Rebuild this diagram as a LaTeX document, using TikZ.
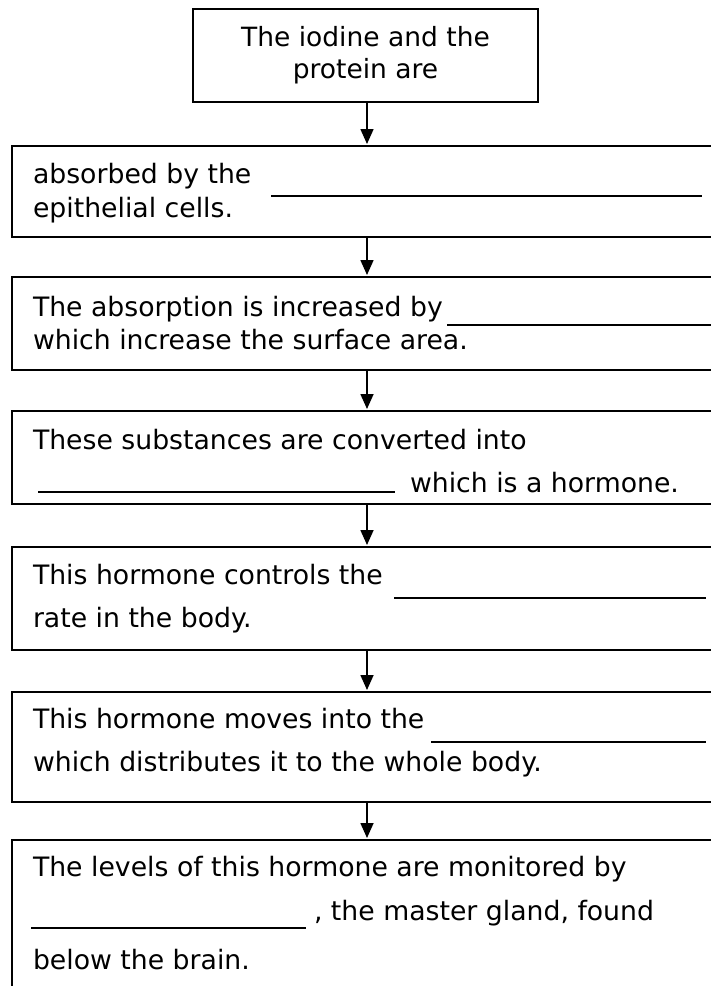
\documentclass[tikz,border=0pt]{standalone}
\usepackage{fontspec}
\setmainfont{DejaVu Sans}
\usetikzlibrary{arrows.meta}
\begin{document}
\begin{tikzpicture}[x=1pt,y=-1pt,
  boxframe/.style={draw, line width=2pt, inner sep=0pt, outer sep=0pt},
  stage/.style={boxframe, anchor=north west, minimum width=704pt},
  txt/.style={anchor=base west, inner sep=0pt, outer sep=0pt, font=\fontsize{26.7}{32}\selectfont},
  blank/.style={line width=2pt},
  arr/.style={line width=1.6pt, -{Triangle[width=13pt,length=15pt]}, shorten >=2pt}]
\useasboundingbox (0,0) rectangle (711,986);
\clip (0,0) rectangle (711,986);
% boxes
\node[boxframe, minimum width=345pt, minimum height=93pt, align=center,
      font=\fontsize{26.5}{32}\selectfont] (top) at (365.5,55.5) {The iodine and the\\protein are};
\node[stage, minimum height=91pt]  (b2) at (12,146) {};
\node[stage, minimum height=93pt]  (b3) at (12,277) {};
\node[stage, minimum height=93pt]  (b4) at (12,411) {};
\node[stage, minimum height=103pt] (b5) at (12,547) {};
\node[stage, minimum height=110pt] (b6) at (12,692) {};
\node[stage, minimum height=160pt] (b7) at (12,840) {};
% arrows
\coordinate (ax) at (367,0);
\draw[arr] (top.south -| ax) -- (b2.north -| ax);
\draw[arr] (b2.south -| ax) -- (b3.north -| ax);
\draw[arr] (b3.south -| ax) -- (b4.north -| ax);
\draw[arr] (b4.south -| ax) -- (b5.north -| ax);
\draw[arr] (b5.south -| ax) -- (b6.north -| ax);
\draw[arr] (b6.south -| ax) -- (b7.north -| ax);
% box 2
\node[txt] (t2a) at (33,183) {absorbed by the};
\node[txt] (t2b) at (33,217) {epithelial cells.};
\draw[blank] (271,196) -- (702,196);
% box 3
\node[txt] (t3a) at (33,316) {The absorption is increased by};
\node[txt] (t3b) at (33,349) {which increase the surface area.};
\draw[blank] (447,325) -- (716,325);
% box 4
\node[txt] (t4a) at (33,449) {These substances are converted into};
\draw[blank] (38,492) -- (395,492);
\node[txt] (t4b) at (410,492) {which is a hormone.};
% box 5
\node[txt] (t5a) at (33,584) {This hormone controls the};
\node[txt] (t5b) at (33,627) {rate in the body.};
\draw[blank] (394,598) -- (706,598);
% box 6
\node[txt] (t6a) at (33,728) {This hormone moves into the};
\node[txt] (t6b) at (33,771) {which distributes it to the whole body.};
\draw[blank] (431,742) -- (706,742);
% box 7
\node[txt] (t7a) at (33,876) {The levels of this hormone are monitored by};
\draw[blank] (31,928) -- (306,928);
\node[txt] (t7b) at (314,920) {, the master gland, found};
\node[txt] (t7c) at (33,969) {below the brain.};
\end{tikzpicture}
\end{document}
